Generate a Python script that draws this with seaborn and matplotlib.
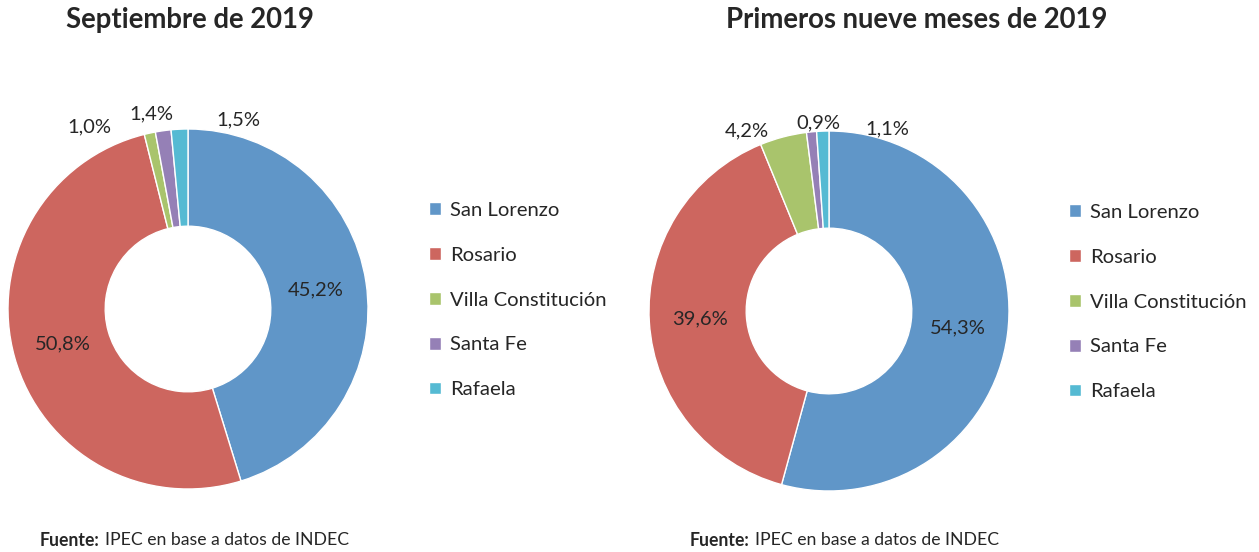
import numpy as np
import matplotlib
matplotlib.use("Agg")
import matplotlib.pyplot as plt
import seaborn as sns

# datos
puertos = ["San Lorenzo", "Rosario", "Villa Constitución", "Santa Fe", "Rafaela"]
septiembre = [45.2, 50.8, 1.0, 1.4, 1.5]
nueve_meses = [54.3, 39.6, 4.2, 0.9, 1.1]
titulos = ["Septiembre de 2019", "Primeros nueve meses de 2019"]
colores = ["#6096C8", "#CD665F", "#A9C46C", "#9580B6", "#55BAD3"]

sns.set_theme(style="white")
plt.rcParams['font.family'] = ['Lato', 'DejaVu Sans']

W, H = 1259, 552
fig = plt.figure(figsize=(W / 100, H / 100), dpi=100)


def px_axes(cx, cy, r):
    # ejes cuadrados centrados en (cx, cy) en pixeles (y desde arriba)
    return fig.add_axes([(cx - r) / W, (H - cy - r) / H, 2 * r / W, 2 * r / H])


def fmt(v):
    return f"{v:.1f}%".replace(".", ",")


def dona(ax, valores, offsets_chicos):
    wedges, _ = ax.pie(valores, colors=colores, startangle=90, counterclock=False,
                       radius=1, wedgeprops=dict(width=0.54, edgecolor="white", linewidth=1))
    ax.set_xlim(-1, 1)
    ax.set_ylim(-1, 1)
    ax.set_aspect("equal")
    ax.axis("off")
    k = 0
    for w, v in zip(wedges, valores):
        ang = np.deg2rad((w.theta1 + w.theta2) / 2)
        if v > 10:
            r = 0.72
            ax.text(r * np.cos(ang), r * np.sin(ang), fmt(v), ha="center", va="center", fontsize=14.5)
        else:
            dx, dy = offsets_chicos[k]
            k += 1
            r = 1.12
            ax.text(r * np.cos(ang) + dx, r * np.sin(ang) + dy, fmt(v),
                    ha="center", va="center", fontsize=14.5)
    return wedges


ax1 = px_axes(188, 309, 180)
w1 = dona(ax1, septiembre, [(-0.31, -0.08), (-0.05, -0.025), (0.33, -0.07)])
ax2 = px_axes(829, 311, 180)
w2 = dona(ax2, nueve_meses, [(-0.17, -0.08), (0.05, -0.07), (0.36, -0.11)])

for cx, tit in zip([190, 917], titulos):
    fig.text(cx / W, 1 - 20 / H, tit, ha="center", va="center", fontsize=19.8, fontweight="bold")

for x0, y0 in [(429, 209), (1069, 211)]:
    fig.legend(w1, puertos, loc="upper left", bbox_to_anchor=(x0 / W, 1 - (y0 - 7) / H),
               frameon=False, fontsize=14.6, labelspacing=1.37, handlelength=0.6,
               handleheight=0.6, handletextpad=0.45, borderaxespad=0, borderpad=0)

for x0 in [40, 690]:
    t = fig.text(x0 / W, 1 - 540 / H, "Fuente:", ha="left", va="center", fontsize=12.7, fontweight="bold")
    fig.canvas.draw()
    bb = t.get_window_extent()
    fig.text((bb.x1 + 5) / W, 1 - 540 / H, "IPEC en base a datos de INDEC", ha="left", va="center", fontsize=12.7)

fig.savefig("out.png", dpi=100)
